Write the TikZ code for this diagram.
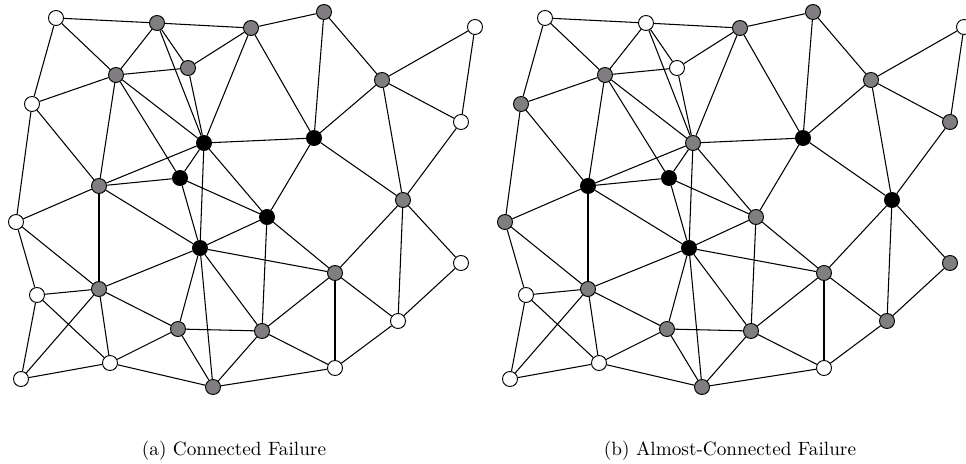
\documentclass[tikz,border=0pt]{standalone}
\usepackage{tikz}
\usepackage{xcolor}
\definecolor{nbrgray}{RGB}{128,126,128}

\begin{document}
\begin{tikzpicture}[x=0.52pt,y=-0.52pt,
  vtx/.style={circle,draw=black,line width=0.5pt,inner sep=0pt,minimum size=7.8pt},
  ok/.style={vtx,fill=white},
  nbr/.style={vtx,fill=nbrgray},
  fail/.style={vtx,fill=black},
  edge/.style={line width=0.55pt}]
  \useasboundingbox (0,0) rectangle (966,464);
  \foreach \n/\x/\y/\cl/\cr in {a/56/18/ok/ok, b/157/23/nbr/ok, c/251/28/nbr/nbr,
      d/324/12/nbr/nbr, e/475/27/ok/ok, f/116/75/nbr/nbr, g/188/68/nbr/ok,
      h/382/80/nbr/nbr, i/32/104/ok/nbr, j/461/122/ok/nbr, k/204/143/fail/nbr,
      l/314/138/fail/fail, m/180/178/fail/fail, n/99/186/nbr/fail,
      o/403/200/nbr/fail, p/16/222/ok/nbr, q/267/217/fail/nbr, r/200/248/fail/fail,
      s/461/263/ok/nbr, t/335/273/nbr/nbr, u/37/295/ok/ok, v/99/289/nbr/nbr,
      w/398/321/ok/nbr, x/178/329/nbr/nbr, y/262/331/nbr/nbr, z/110/363/ok/ok,
      aa/21/379/ok/ok, bb/335/368/ok/ok, cc/213/387/nbr/nbr}
  {
    \node[\cl] (l\n) at (\x,\y) {};
    \node[\cr] (r\n) at (\x+489,\y) {};
  }
  \foreach \s/\t in {a/b, b/c, a/f, a/i, b/f, b/g, b/k, g/k, g/c, f/g, f/i, f/k,
      f/m, f/n, i/n, i/p, c/k, k/l, k/n, k/m, n/m, m/q, k/q, k/r, n/v, n/r, n/p,
      c/d, c/l, d/l, d/h, h/e, h/l, h/j, e/j, h/o, j/o, l/o, l/q, p/v, p/u, m/r,
      v/r, r/q, r/t, r/x, r/cc, r/y, v/u, v/x, v/z, v/aa, u/z, u/aa, z/aa, z/x,
      z/cc, x/cc, x/y, cc/y, q/y, q/t, o/t, o/w, o/s, s/w, t/w, t/bb, t/y, y/bb,
      w/bb, cc/bb}
  {
    \draw[edge] (l\s) -- (l\t);
    \draw[edge] (r\s) -- (r\t);
  }
  \node[anchor=base] (capa) at (234,455) {(a) Connected Failure};
  \node[anchor=base] (capb) at (730,455) {(b) Almost-Connected Failure};
\end{tikzpicture}
\end{document}
